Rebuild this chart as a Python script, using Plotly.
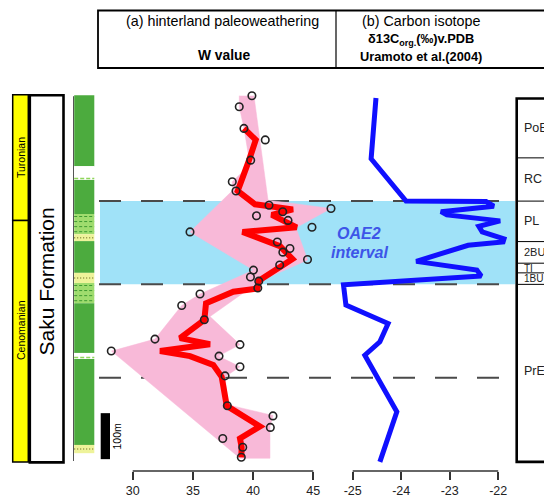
import plotly.graph_objects as go

W_PX, H_PX = 544, 498

# ---------------- data ----------------
# W value samples: stratigraphic height (m above base of section) and W value
w_height = [794, 770, 723, 698, 654, 607, 587, 556, 549, 542, 533, 523, 498, 508, 476, 462, 454, 438, 426, 415,
            400, 391, 376, 363, 338, 307, 265, 253, 239, 228, 205, 185, 120, 98, 73, 49, 30, 8]
w_value = [39.9, 38.85, 39.24, 41.01, 39.8, 38.27, 38.58, 41.32, 46.47, 42.46, 40.28, 42.9, 34.76, 44.89, 42.01,
           43.06, 42.47, 44.52, 42.21, 40.03, 39.78, 40.47, 40.39, 35.59, 34.07, 35.95, 31.85, 38.91, 28.22, 37.17,
           38.91, 37.67, 37.86, 41.65, 41.43, 37.48, 39.14, 39.02]

# smoothed W trend (red line)
trend_height = [723, 698, 654, 587, 558, 547, 535, 508, 498, 467, 439, 392, 375, 368, 343, 307, 267, 254, 239, 228,
                209, 183, 120, 75, 49, 30, 8]
trend_w = [39.24, 40.22, 39.66, 38.72, 40.16, 43.31, 41.55, 43.62, 39.12, 42.23, 43.27, 40.47, 40.37, 38.36, 36.09,
           35.95, 33.93, 36.42, 32.27, 34.76, 36.69, 37.39, 37.81, 40.57, 38.91, 39.05, 39.02]

# W value range envelope (pink)
env_w = [40.07, 41.24, 46.47, 43.56, 44.53, 40.57, 36.42, 38.91, 37.11, 38.91, 37.67, 37.94, 41.65, 41.40, 41.40,
         38.91, 28.24, 31.85, 34.07, 35.59, 40.03, 34.76, 38.33, 38.27, 39.74, 39.24, 38.85, 38.85]
env_height = [794, 567, 549, 507, 437, 391, 314, 253, 228, 205, 183, 122, 99, 74, 6, 6, 239, 265, 338, 363, 415, 498,
              589, 607, 644, 724, 770, 794]

# carbon isotope (Uramoto et al. 2004)
d13c = [-24.52, -24.62, -23.90, -22.25, -22.09, -23.18, -23.06, -21.96, -22.40, -22.33, -21.88, -21.90, -22.62,
        -23.69, -22.44, -22.35, -25.19, -25.14, -24.27, -24.44, -24.75, -24.09, -24.44]
d13c_height = [789, 657, 565, 564, 554, 542, 535, 522, 510, 498, 483, 476, 469, 434, 415, 402, 383, 339, 299, 259,
               230, 107, -2]

w_ticks = [30, 35, 40, 45]
c_ticks = [-25, -24, -23, -22]
c_ticktext = ["-25", "-24", "-23", "-22"]

# OAE2 interval and other horizons (m)
oae2_top, oae2_base = 565, 384
lower_horizon = 181

# zones (top, base in m) and labels
zone_labels = ["PoE", "RC", "PL", "2BU", "TI", "1BU", "PrE"]
zone_tops = [788, 659, 565, 477, 430, 409, 384]
zone_bases = [659, 565, 477, 430, 409, 384, -2]

# stages
stage_labels = ["Turonian", "Cenomanian"]
stage_tops = [796, 523]
stage_bases = [523, -2]

# lithology column (top, base in m, type)
lith_tops = [795, 641, 611, 537, 493, 478, 409, 387, 343, 235, 222, 35]
lith_bases = [641, 611, 537, 493, 478, 409, 387, 343, 235, 222, 35, 17]
lith_type = ["mud", "gap", "mud", "silt", "sand", "mud", "sand", "silt", "mud", "gap", "mud", "sand"]

# ---------------- layout helpers ----------------
M_PER_PX = 100 / 46.0
BASE_PX = 461.0
Y_RANGE = [(BASE_PX - 471) * M_PER_PX, BASE_PX * M_PER_PX]
Y_DOMAIN = [27 / H_PX, 1.0]


def P(x):
    return x / W_PX


def Q(y):
    return (H_PX - y) / H_PX


def hy(m):
    """height (m) -> pixel y"""
    return BASE_PX - m / M_PER_PX


# W axis: 30 at 132.7 px, 12.04 px per unit
w_dom = [92, 342]
w_rng = [30 + (w_dom[0] - 132.7) / 12.04, 30 + (w_dom[1] - 132.7) / 12.04]
# d13C axis: -25 at 352.7 px, 48.5 px per unit
c_dom = [332, 520]
c_rng = [-25 + (c_dom[0] - 352.7) / 48.5, -25 + (c_dom[1] - 352.7) / 48.5]

FONT = "Liberation Sans, Arial, sans-serif"

fig = go.Figure()

fig.add_trace(go.Scatter(x=env_w, y=env_height, mode="lines", fill="toself", fillcolor="#f8b9d8",
                         line=dict(width=0.5, color="#f8b9d8"), hoverinfo="skip", xaxis="x", yaxis="y"))
fig.add_trace(go.Scatter(x=trend_w, y=trend_height, mode="lines", line=dict(color="#ff0000", width=6),
                         xaxis="x", yaxis="y"))
fig.add_trace(go.Scatter(x=w_value, y=w_height, mode="markers",
                         marker=dict(symbol="circle-open", size=7.5, color="#222222", line=dict(width=1.6)),
                         xaxis="x", yaxis="y"))
fig.add_trace(go.Scatter(x=d13c, y=d13c_height, mode="lines", line=dict(color="#1010ff", width=5),
                         xaxis="x2", yaxis="y"))

shapes = []
# OAE2 band
shapes.append(dict(type="rect", xref="paper", yref="y", x0=P(100), x1=P(515), y0=oae2_base, y1=oae2_top,
                   fillcolor="#a0e2f8", line=dict(width=0), layer="below"))
for h in [oae2_top, oae2_base, lower_horizon]:
    shapes.append(dict(type="line", xref="paper", yref="y", x0=P(99), x1=P(516), y0=h, y1=h,
                       line=dict(color="#4a4a4a", width=2, dash="22px,20px"), layer="below"))

# header table
shapes.append(dict(type="rect", xref="paper", yref="paper", x0=P(98), x1=P(600), y0=Q(68), y1=Q(10.5),
                   line=dict(color="black", width=1.8)))
shapes.append(dict(type="line", xref="paper", yref="paper", x0=P(336), x1=P(336), y0=Q(68), y1=Q(10.5),
                   line=dict(color="black", width=1.2)))

# stage column
for t, b in zip(stage_tops, stage_bases):
    shapes.append(dict(type="rect", xref="paper", yref="paper", x0=P(12.7), x1=P(28.3), y0=Q(hy(b)), y1=Q(hy(t)),
                       fillcolor="#ffff00", line=dict(color="black", width=1.5)))
# formation box
shapes.append(dict(type="rect", xref="paper", yref="paper", x0=P(29.8), x1=P(63.5), y0=Q(hy(-3)), y1=Q(hy(795)),
                   fillcolor="white", line=dict(color="black", width=2.6)))

# lithology column
shapes.append(dict(type="line", xref="paper", yref="paper", x0=P(73.5), x1=P(73.5), y0=Q(hy(0)), y1=Q(hy(793)),
                   line=dict(color="#555555", width=1)))
lith_fill = {"mud": "#4cab3e", "silt": "#9fdc6e", "sand": "#eef39a", "gap": "white"}
for t, b, k in zip(lith_tops, lith_bases, lith_type):
    shapes.append(dict(type="rect", xref="paper", yref="paper", x0=P(74.2), x1=P(94.3), y0=Q(hy(b)), y1=Q(hy(t)),
                       fillcolor=lith_fill[k], line=dict(width=0)))
    if k == "silt":
        n = 4
        for i in range(n):
            yy = hy(t) + (hy(b) - hy(t)) * (i + 0.5) / n
            shapes.append(dict(type="line", xref="paper", yref="paper", x0=P(74.2), x1=P(94.3), y0=Q(yy), y1=Q(yy),
                               line=dict(color="#3d9a30", width=1, dash="3px,2px")))
    if k == "sand":
        yy = (hy(t) + hy(b)) / 2
        shapes.append(dict(type="line", xref="paper", yref="paper", x0=P(74.2), x1=P(94.3), y0=Q(yy), y1=Q(yy),
                           line=dict(color="#8a8a40", width=1.5, dash="1px,2px")))
    if k == "gap":
        yy = hy(b) - 1.5
        shapes.append(dict(type="line", xref="paper", yref="paper", x0=P(74.2), x1=P(94.3), y0=Q(yy), y1=Q(yy),
                           line=dict(color="#8fd65a", width=1.5, dash="4px,2px")))

# scale bar (100 m)
shapes.append(dict(type="rect", xref="paper", yref="y", x0=P(100.7), x1=P(110), y0=4, y1=104,
                   fillcolor="black", line=dict(width=0)))

# zone box
shapes.append(dict(type="rect", xref="paper", yref="y", x0=P(516.7), x1=P(600), y0=zone_bases[-1], y1=zone_tops[0],
                   line=dict(color="black", width=2.6)))
for t in zone_tops[1:]:
    shapes.append(dict(type="line", xref="paper", yref="y", x0=P(516.7), x1=P(600), y0=t, y1=t,
                       line=dict(color="black", width=1)))

# axis lines
shapes.append(dict(type="line", xref="x", yref="paper", x0=w_ticks[0], x1=w_ticks[-1], y0=Y_DOMAIN[0], y1=Y_DOMAIN[0],
                   line=dict(color="#333333", width=1.5)))
shapes.append(dict(type="line", xref="x2", yref="paper", x0=c_ticks[0], x1=c_ticks[-1], y0=Y_DOMAIN[0],
                   y1=Y_DOMAIN[0], line=dict(color="#333333", width=1.5)))

ann = []


def txt(x, y, s, size, color="black", angle=0, xanchor="center", bold=False):
    if bold:
        s = "<b>" + s + "</b>"
    ann.append(dict(xref="paper", yref="paper", x=P(x), y=Q(y), text=s, showarrow=False, textangle=angle,
                    xanchor=xanchor, yanchor="middle", font=dict(family=FONT, size=size, color=color)))


txt(222, 21, "(a) hinterland paleoweathering", 14.3)
txt(224, 55, "W value", 13.8, bold=True)
txt(421, 21, "(b) Carbon isotope", 14.3)
txt(421, 39.5, "δ13C<sub>org.</sub>(‰)v.PDB", 12.8, bold=True)
txt(421, 56.5, "Uramoto et al.(2004)", 12.8, bold=True)

txt(21, 158, "Turonian", 10.5, angle=-90)
txt(21, 330, "Cenomanian", 10.5, angle=-90)
txt(46.5, 282, "Saku Formation", 21, angle=-90)
txt(116.5, 436, "100m", 10.5, angle=-90)

txt(359, 234, "<b><i>OAE2</i></b>", 16, color="#3d55e8")
txt(359, 252, "<b><i>interval</i></b>", 16, color="#3d55e8")

zone_sizes = {"PoE": 12.5, "RC": 12.5, "PL": 12.5, "2BU": 11, "TI": 10, "1BU": 10, "PrE": 12.5}
for lab, t, b in zip(zone_labels, zone_tops, zone_bases):
    yc = (hy(t) + hy(b)) / 2
    if lab == "PrE":
        yc = 371
    txt(521.5, yc, lab, zone_sizes[lab], color="#222222", xanchor="left")

fig.update_layout(
    width=W_PX, height=H_PX, margin=dict(l=0, r=0, t=0, b=0), autosize=False,
    paper_bgcolor="white", plot_bgcolor="rgba(0,0,0,0)", showlegend=False,
    font=dict(family=FONT, size=12, color="#222222"),
    xaxis=dict(domain=[P(w_dom[0]), P(w_dom[1])], range=w_rng, anchor="y", showgrid=False, zeroline=False,
               showline=False, tickmode="array", tickvals=w_ticks, ticks="outside", ticklen=8, tickwidth=1.5,
               tickcolor="#333333", tickfont=dict(size=12.5, color="#222222")),
    xaxis2=dict(domain=[P(c_dom[0]), P(c_dom[1])], range=c_rng, anchor="y", showgrid=False, zeroline=False,
                showline=False, tickmode="array", tickvals=c_ticks, ticktext=c_ticktext, ticks="outside",
                ticklen=8, tickwidth=1.5, tickcolor="#333333", tickfont=dict(size=12.5, color="#222222")),
    yaxis=dict(domain=Y_DOMAIN, range=Y_RANGE, visible=False, showgrid=False, zeroline=False),
    shapes=shapes, annotations=ann,
)

fig.write_html("out.html", config={"displayModeBar": False},
               post_script="document.body.style.margin='0px';")
